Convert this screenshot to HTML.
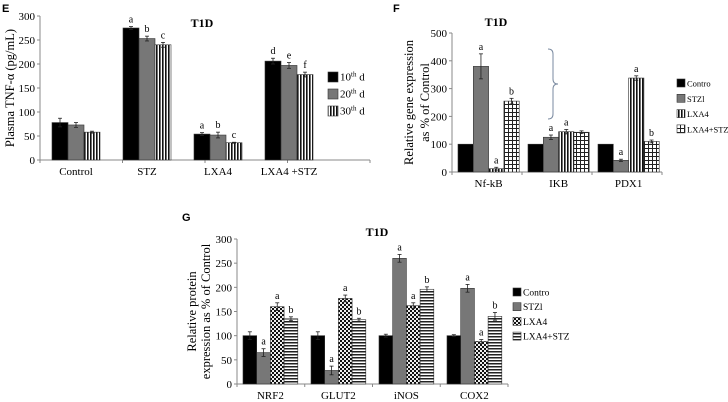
<!DOCTYPE html>
<html><head><meta charset="utf-8"><style>
html,body{margin:0;padding:0;background:#fff;}
svg{display:block;font-family:"Liberation Serif",serif;}
</style></head><body>
<svg id="fig" width="728" height="402" viewBox="0 0 728 402" xmlns="http://www.w3.org/2000/svg">
<defs>
<pattern id="vstripe" width="3" height="3" patternUnits="userSpaceOnUse"><rect width="3" height="3" fill="#fff"/><rect width="1.6" height="3" fill="#111"/></pattern>
<pattern id="hstripe" width="3" height="3" patternUnits="userSpaceOnUse"><rect width="3" height="3" fill="#fff"/><rect width="3" height="1.5" fill="#222"/></pattern>
<pattern id="grid" width="4" height="4" patternUnits="userSpaceOnUse"><rect width="4" height="4" fill="#fff"/><rect width="1" height="4" fill="#222"/><rect width="4" height="1" fill="#222"/></pattern>
<pattern id="check" width="4" height="4" patternUnits="userSpaceOnUse"><rect width="4" height="4" fill="#eee"/><rect width="2" height="2" fill="#111"/><rect x="2" y="2" width="2" height="2" fill="#111"/></pattern>
</defs>
<text x="2" y="12" font-family="Liberation Sans" font-weight="bold" font-size="11">E</text>
<text x="393" y="12" font-family="Liberation Sans" font-weight="bold" font-size="11">F</text>
<text x="182" y="221" font-family="Liberation Sans" font-weight="bold" font-size="11">G</text>
<path d="M548,49 q5,0 5,5 v25 q0,5 5,5 q-5,0 -5,5 v25 q0,5 -5,5" fill="none" stroke="#7a8aa0" stroke-width="1"/>
</svg>
<script>
// Panel E data
const eCats=["Control","STZ","LXA4","LXA4 +STZ"];
const eS1=[78,275,54,206];
const eS2=[73,253,52,197];
const eS3=[58,240,36,178];
const eErr1=[9,3,3,6];
const eErr2=[5,5,6,6];
const eErr3=[2,5,1,5];
const eLetters1=["","a","a","d"];
const eLetters2=["","b","b","e"];
const eLetters3=["","c","c","f"];
const eTicks=[0,50,100,150,200,250,300];
const eLegend=["10th d","20th d","30th d"];
// Panel F data
const fCats=["Nf-kB","IKB","PDX1"];
const fS1=[100,100,100];
const fS2=[380,125,42];
const fS3=[12,145,338];
const fS4=[255,143,110];
const fErr2=[45,8,4];
const fErr3=[5,8,8];
const fErr4=[10,5,5];
const fLetters2=["a","a","a"];
const fLetters3=["a","a","a"];
const fLetters4=["b","","b"];
const fTicks=[0,100,200,300,400,500];
const fLegend=["Contro","STZl","LXA4","LXA4+STZ"];
// Panel G data
const gCats=["NRF2","GLUT2","iNOS","COX2"];
const gS1=[100,100,100,100];
const gS2=[65,28,260,198];
const gS3=[160,177,162,88];
const gS4=[135,133,196,140];
const gErr1=[8,8,3,2];
const gErr2=[8,9,8,8];
const gErr3=[8,7,6,4];
const gErr4=[4,3,5,8];
const gLetters2=["a","a","a","a"];
const gLetters3=["a","a","a","a"];
const gLetters4=["b","b","b","b"];
const gTicks=[0,50,100,150,200,250,300];
const gLegend=["Contro","STZl","LXA4","LXA4+STZ"];

const svg=document.getElementById('fig');
const NS="http://www.w3.org/2000/svg";
function mk(tag,attrs,parent){const e=document.createElementNS(NS,tag);for(const k in attrs)e.setAttribute(k,attrs[k]);(parent||svg).appendChild(e);return e;}

function panel(cfg){
  const g=mk('g',{});
  
  
  const y=v=>cfg.y0-(v/cfg.max)*(cfg.y0-cfg.yTop);
  const gx=i=>cfg.gStart+i*cfg.gStep;
  const bx=(i,j)=>gx(i)+j*cfg.bw;
  const ax=mk('line',{x1:cfg.x0,y1:cfg.yTop,x2:cfg.x0,y2:cfg.y0,stroke:'#888','stroke-width':1},g);
  
  const xa=mk('line',{x1:cfg.x0,y1:cfg.y0,x2:cfg.xEnd,y2:cfg.y0,stroke:'#888','stroke-width':1},g);
  
  cfg.ticks.forEach(t=>{
    mk('line',{x1:cfg.x0-3,y1:y(t),x2:cfg.x0,y2:y(t),stroke:'#888'},g);
    const tx=mk('text',{x:cfg.x0-5,y:y(t)+4,'text-anchor':'end','font-size':11},g);
    tx.textContent=t;
    
  });
  for(let i=0;i<=cfg.cats.length;i++){
    const xx=cfg.x0+(cfg.xEnd-cfg.x0)*i/cfg.cats.length;
    mk('line',{x1:xx,y1:cfg.y0,x2:xx,y2:cfg.y0+3,stroke:'#888'},g);
  }
  cfg.cats.forEach((c,i)=>{
    const cx=gx(i)+cfg.bw*cfg.series.length/2;
    const t=mk('text',{x:cx,y:cfg.y0+15,'text-anchor':'middle','font-size':11},g);
    t.textContent=c;
    
    cfg.series.forEach((s,j)=>{
      const v=s[i];
      const r=mk('rect',{x:bx(i,j),y:y(v),width:cfg.bw,height:cfg.y0-y(v),fill:cfg.fills[j],stroke:'#333','stroke-width':0.6},g);
      
      const e=cfg.errs[j]?cfg.errs[j][i]:0;
      const mx=bx(i,j)+cfg.bw/2;
      if(e){
        mk('line',{x1:mx,y1:y(v+e),x2:mx,y2:y(v-e),stroke:'#222','stroke-width':0.8},g);
        mk('line',{x1:mx-2,y1:y(v+e),x2:mx+2,y2:y(v+e),stroke:'#222','stroke-width':0.8},g);
        mk('line',{x1:mx-2,y1:y(v-e),x2:mx+2,y2:y(v-e),stroke:'#222','stroke-width':0.8},g);
      }
      const L=cfg.letters[j]?cfg.letters[j][i]:"";
      if(L){
        const lt=mk('text',{x:mx,y:y(v+e)-4,'text-anchor':'middle','font-size':10},g);
        lt.textContent=L;
        
      }
    });
  });
  const tt=mk('text',{x:cfg.titleX,y:cfg.titleY,'text-anchor':'middle','font-size':12,'font-weight':'bold'},g);
  tt.textContent="T1D";
  
  const yt=mk('text',{transform:`translate(${cfg.ytX},${(cfg.y0+cfg.yTop)/2}) rotate(-90)`,'text-anchor':'middle','font-size':12.5},g);
  
  cfg.ytitle.forEach((line,k)=>{const ts=mk('tspan',{x:0,dy:k?cfg.ytDy:0},yt);ts.textContent=line;});
  cfg.legend.forEach((l,k)=>{
    const ly=cfg.legY+k*cfg.legStep;
    const lg=mk('g',{},g);
    
    mk('rect',{x:cfg.legX,y:ly-cfg.legBox/2,width:cfg.legBox,height:cfg.legBox,fill:cfg.fills[k],stroke:'#333','stroke-width':0.6},lg);
    const t=mk('text',{x:cfg.legX+cfg.legBox+2,y:ly+3.5,'font-size':cfg.legFont},lg);
    if(cfg.sup){const m=l.match(/^(\d+)(th)(.*)$/);t.textContent=m[1];const s=mk('tspan',{'font-size':7,dy:-4},t);s.textContent=m[2];const r=mk('tspan',{dy:4},t);r.textContent=m[3];}
    else t.textContent=l;
  });
}

panel({name:'panel-e-chart',x0:40,xEnd:370,y0:160,yTop:16,max:300,gStart:52,gStep:71,bw:16,
  cats:eCats,series:[eS1,eS2,eS3],errs:[eErr1,eErr2,eErr3],letters:[eLetters1,eLetters2,eLetters3],
  fills:['#000','#777','url(#vstripe)'],ticks:eTicks,titleX:202,titleY:27,ytX:14,ytDy:14,ytitle:["Plasma TNF-α  (pg/mL)"],
  legend:eLegend,legX:328,legY:77,legStep:17,legBox:10,legFont:11,sup:true});
panel({name:'panel-f-chart',x0:452,xEnd:662,y0:172,yTop:33,max:500,gStart:458,gStep:70,bw:15.3,
  cats:fCats,series:[fS1,fS2,fS3,fS4],errs:[null,fErr2,fErr3,fErr4],letters:[null,fLetters2,fLetters3,fLetters4],
  fills:['#000','#777','url(#vstripe)','url(#grid)'],ticks:fTicks,titleX:496,titleY:26,ytX:413,ytDy:16,ytitle:["Relative gene expression","as % of Control"],
  legend:fLegend,legX:677,legY:83,legStep:15.3,legBox:8,legFont:8.5,sup:false});
panel({name:'panel-g-chart',x0:237,xEnd:508,y0:384,yTop:239,max:300,gStart:243,gStep:68,bw:13.7,
  cats:gCats,series:[gS1,gS2,gS3,gS4],errs:[gErr1,gErr2,gErr3,gErr4],letters:[null,gLetters2,gLetters3,gLetters4],
  fills:['#000','#777','url(#check)','url(#hstripe)'],ticks:gTicks,titleX:377,titleY:236,ytX:196,ytDy:14,ytitle:["Relative protein","expression as % of Control"],
  legend:gLegend,legX:513,legY:292,legStep:14.7,legBox:8,legFont:9.5,sup:false});
</script>
</body></html>
